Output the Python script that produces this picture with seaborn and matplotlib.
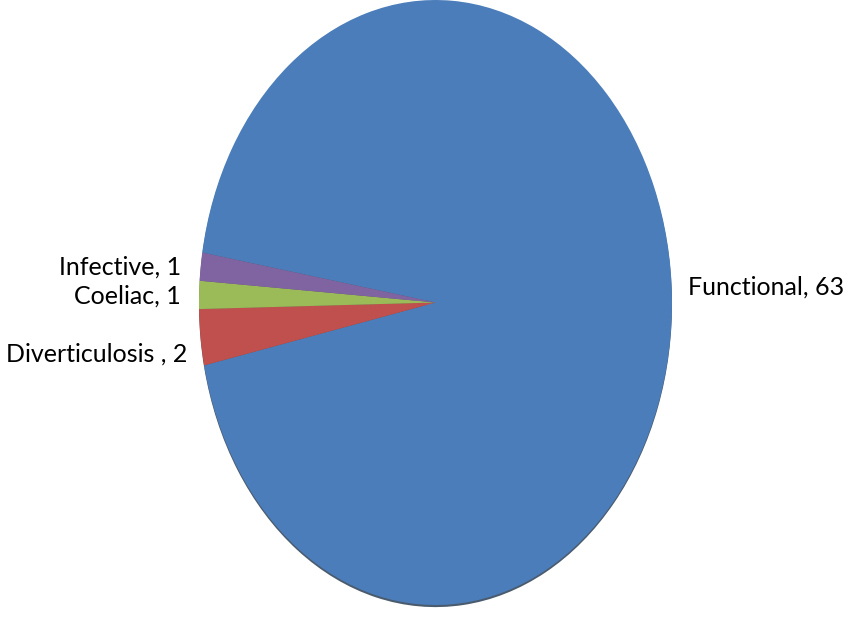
import matplotlib
matplotlib.use("Agg")
import matplotlib.pyplot as plt
import seaborn as sns

# Diagnosis counts
categories = ["Functional", "Diverticulosis", "Coeliac", "Infective"]
counts = [63, 2, 1, 1]
colors = ["#4A7DBA", "#C0504D", "#9BBB59", "#8064A2"]

sns.set_theme(style="white")
plt.rcParams["font.family"] = ["Lato", "DejaVu Sans"]

W, H = 865, 634
fig = plt.figure(figsize=(W / 100, H / 100), dpi=100)
# Elliptical pie: axes box spans the ellipse, aspect left free
cx, cy, rx, ry = 435.5, 302.5, 236.5, 302.5
ax = fig.add_axes([(cx - rx) / W, (H - cy - ry) / H, 2 * rx / W, 2 * ry / H])

wedges, _ = ax.pie(
    counts,
    colors=colors,
    startangle=170.5,
    counterclock=False,
    radius=1.0,
    wedgeprops=dict(linewidth=0),
    shadow=dict(ox=0.0, oy=-0.005, shade=0.6, alpha=0.8),
)
ax.set_aspect("auto")
ax.set_xlim(-1, 1)
ax.set_ylim(-1, 1)
ax.axis("off")


def to_data(px, py):
    return (px - cx) / rx, (cy - py) / ry


labels = [f"{c}, {v}" for c, v in zip(categories, counts)]
labels[1] = f"{categories[1]} , {counts[1]}"
label_px = [(688, 287, "left"), (187, 354, "right"), (181, 296, "right"), (181, 267, "right")]
for text, (px, py, ha) in zip(labels, label_px):
    x, y = to_data(px, py)
    ax.text(x, y, text, ha=ha, va="center", fontsize=18, color="black", clip_on=False)

fig.savefig("out.png", dpi=100)
